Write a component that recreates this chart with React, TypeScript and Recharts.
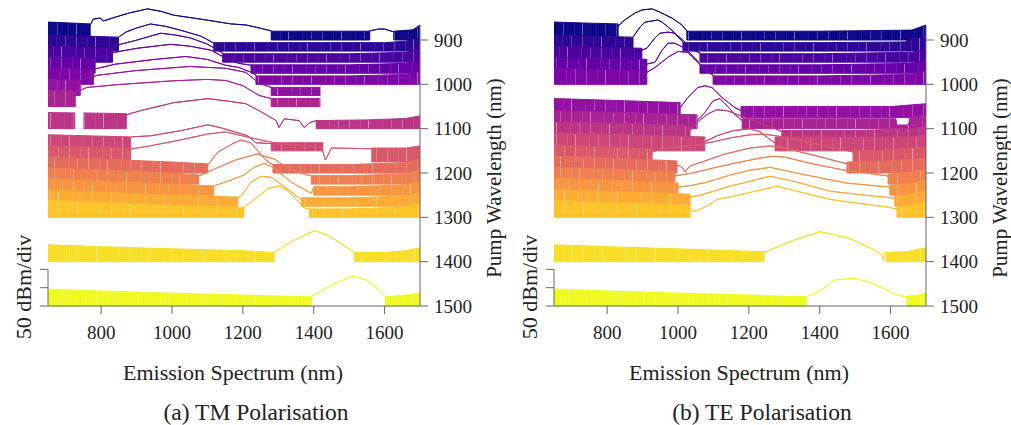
import { ComposedChart, Area, XAxis, YAxis, ReferenceLine } from 'recharts'

// Waterfall of OSA spectra: each trace is offset to its pump wavelength,
// 50 dB of signal per division on the pump axis.
const FLOOR = -100 // dBm, bottom of the noise spikes (sits on the pump line)
const NM_PER_DB = 0.826

// [emission nm, level dBm, 1 = noise floor (filled down to baseline)]; null level = no data
type Pt = [number, number | null, number?]

const tmPumps = [900, 925, 950, 975, 1000, 1025, 1050, 1100, 1150, 1175, 1200, 1225, 1250, 1275, 1300, 1400, 1500]
const tePumps = [900, 925, 950, 975, 1000, 1075, 1100, 1125, 1150, 1175, 1200, 1225, 1250, 1275, 1300, 1400, 1500]

const tm900: Pt[] = [[650, -51, 1], [700, -53, 1], [769, -56, 1], [769, -59], [778, -43], [798, -40], [806, -48], [832, -40], [880, -26], [931, -15], [970, -22], [1004, -32], [1081, -43], [1166, -56], [1209, -59], [1246, -67], [1280, -75], [1280, -76, 1], [1558, -76, 1], [1558, -75], [1583, -70], [1600, -70], [1626, -78], [1626, -76, 1], [1680, -72, 1], [1700, -59, 1]]
const tm925: Pt[] = [[650, -56, 1], [750, -59, 1], [849, -62, 1], [849, -62], [870, -48], [900, -37], [939, -26], [980, -32], [1024, -43], [1081, -59], [1118, -78], [1118, -77, 1], [1300, -77, 1], [1600, -77, 1], [1660, -73, 1], [1700, -62, 1]]
const tm950: Pt[] = [[650, -56, 1], [832, -62, 1], [832, -62], [855, -51], [900, -40], [968, -21], [1010, -26], [1053, -34], [1100, -51], [1143, -75], [1143, -77, 1], [1500, -77, 1], [1660, -73, 1], [1700, -65, 1]]
const tm975: Pt[] = [[650, -56, 1], [783, -59, 1], [783, -59], [826, -45], [900, -32], [996, -21], [1050, -26], [1110, -37], [1152, -59], [1188, -73], [1223, -78], [1223, -77, 1], [1500, -77, 1], [1660, -73, 1], [1700, -65, 1]]
const tm1000: Pt[] = [[650, -56, 1], [778, -59, 1], [778, -59], [840, -45], [950, -32], [1039, -24], [1100, -32], [1152, -48], [1189, -54], [1223, -67], [1237, -75], [1237, -77, 1], [1500, -77, 1], [1660, -73, 1], [1700, -65, 1]]
const tm1025: Pt[] = [[650, -56, 1], [741, -59, 1], [741, -59], [790, -45], [900, -32], [1050, -21], [1152, -26], [1208, -37], [1246, -67], [1280, -78], [1280, -78, 1], [1419, -78, 1]]
const tm1050: Pt[] = [[650, -56, 1], [727, -59, 1], [727, -62], [760, -48], [850, -40], [1000, -30], [1100, -26], [1152, -29], [1200, -43], [1246, -70], [1280, -78], [1280, -78, 1], [1419, -78, 1]]
const tm1100: Pt[] = [[650, -56, 1], [727, -57, 1], [738, null], [750, -57, 1], [871, -59, 1], [871, -62], [911, -51], [1005, -29], [1101, -18], [1152, -24], [1209, -32], [1246, -51], [1294, -78], [1302, -97], [1317, -73], [1359, -78], [1373, -97], [1388, -84], [1407, -78], [1407, -78, 1], [1550, -76, 1], [1660, -72, 1], [1700, -65, 1]]
const tm1150: Pt[] = [[650, -56, 1], [883, -62, 1], [883, -62], [939, -59], [1024, -45], [1101, -29], [1138, -37], [1166, -45], [1214, -59], [1237, -78], [1280, -80], [1280, -78, 1], [1427, -78, 1]]
const tm1175: Pt[] = [[650, -56, 1], [883, -62, 1], [883, -65], [939, -56], [1024, -40], [1100, -24], [1150, -18], [1200, -29], [1250, -40], [1308, -51], [1422, -59], [1433, -95], [1450, -62], [1564, -64], [1564, -62, 1], [1660, -62, 1], [1700, -56, 1]]
const tm1200: Pt[] = [[650, -56, 1], [800, -62, 1], [1000, -70, 1], [1101, -75, 1], [1101, -78], [1130, -43], [1175, -18], [1195, -10], [1223, -18], [1265, -65], [1285, -78], [1285, -77, 1], [1500, -77, 1], [1660, -72, 1], [1700, -62, 1]]
const tm1225: Pt[] = [[650, -56, 1], [800, -62, 1], [1000, -70, 1], [1075, -75, 1], [1075, -78], [1120, -59], [1180, -34], [1240, -18], [1290, -32], [1325, -56], [1373, -73], [1393, -78], [1393, -77, 1], [1500, -77, 1], [1660, -72, 1], [1700, -62, 1]]
const tm1250: Pt[] = [[650, -56, 1], [800, -62, 1], [1000, -70, 1], [1118, -75, 1], [1118, -75], [1166, -59], [1203, -45], [1232, -24], [1260, -13], [1288, -26], [1337, -65], [1393, -95], [1400, -78], [1400, -77, 1], [1500, -77, 1], [1660, -72, 1], [1700, -62, 1]]
const tm1275: Pt[] = [[650, -56, 1], [800, -62, 1], [1000, -70, 1], [1186, -75, 1], [1186, -75], [1195, -73], [1223, -34], [1251, -18], [1280, -21], [1308, -40], [1356, -75], [1365, -81], [1365, -77, 1], [1500, -77, 1], [1660, -72, 1], [1700, -62, 1]]
const tm1300: Pt[] = [[650, -54, 1], [800, -59, 1], [1000, -67, 1], [1203, -73, 1], [1203, -73], [1243, -43], [1271, -21], [1300, -15], [1322, -24], [1345, -45], [1371, -73], [1388, -78], [1388, -77, 1], [1500, -77, 1], [1660, -72, 1], [1700, -62, 1]]
const tm1400: Pt[] = [[650, -54, 1], [800, -59, 1], [1000, -65, 1], [1200, -70, 1], [1288, -75, 1], [1288, -75], [1337, -45], [1365, -32], [1402, -15], [1436, -26], [1478, -51], [1515, -75], [1515, -75, 1], [1600, -75, 1], [1660, -70, 1], [1700, -62, 1]]
const tm1500: Pt[] = [[650, -54, 1], [800, -59, 1], [1000, -65, 1], [1200, -70, 1], [1393, -75, 1], [1393, -75], [1450, -43], [1493, -24], [1512, -18], [1549, -29], [1578, -51], [1603, -75], [1603, -75, 1], [1660, -70, 1], [1700, -65, 1]]

const te900: Pt[] = [[650, -51, 1], [750, -54, 1], [831, -56, 1], [831, -62], [850, -45], [879, -26], [898, -18], [927, -15], [949, -24], [983, -40], [1011, -59], [1025, -75], [1025, -76, 1], [1400, -76, 1], [1660, -73, 1], [1700, -59, 1]]
const te925: Pt[] = [[650, -56, 1], [873, -62, 1], [873, -62], [893, -34], [907, -21], [943, -15], [955, -21], [983, -43], [1000, -62], [1014, -75], [1014, -77, 1], [1400, -77, 1], [1640, -75, 1], [1660, -65, 1], [1700, -62, 1]]
const te950: Pt[] = [[650, -56, 1], [898, -62, 1], [898, -67], [912, -62], [935, -34], [949, -21], [972, -18], [991, -21], [1020, -45], [1042, -67], [1062, -75], [1062, -77, 1], [1400, -77, 1], [1660, -73, 1], [1700, -65, 1]]
const te975: Pt[] = [[650, -56, 1], [912, -62, 1], [912, -75], [935, -70], [955, -37], [972, -18], [991, -18], [1020, -32], [1048, -59], [1062, -75], [1062, -77, 1], [1400, -77, 1], [1660, -73, 1], [1700, -65, 1]]
const te1000: Pt[] = [[650, -56, 1], [912, -62, 1], [912, -67], [935, -54], [972, -26], [1000, -10], [1028, -13], [1056, -40], [1085, -67], [1099, -75], [1099, -77, 1], [1400, -77, 1], [1660, -73, 1], [1700, -62, 1]]
const te1075: Pt[] = [[650, -48, 1], [850, -54, 1], [1006, -59, 1], [1006, -73], [1028, -45], [1056, -18], [1076, -13], [1096, -18], [1124, -45], [1161, -73], [1178, -81], [1178, -70, 1], [1400, -70, 1], [1600, -70, 1], [1700, -62, 1]]
const te1100: Pt[] = [[650, -51, 1], [850, -56, 1], [1054, -62, 1], [1054, -78], [1076, -56], [1099, -24], [1118, -18], [1138, -37], [1161, -62], [1181, -78], [1181, -73, 1], [1615, -73, 1], [1618, -90, 1], [1650, -90, 1], [1655, -70, 1], [1700, -62, 1]]
const te1125: Pt[] = [[650, -51, 1], [850, -56, 1], [1034, -62, 1], [1034, -75], [1056, -51], [1085, -29], [1110, -18], [1140, -21], [1175, -34], [1220, -51], [1268, -67], [1293, -78], [1293, -75, 1], [1500, -75, 1], [1660, -70, 1], [1700, -62, 1]]
const te1150: Pt[] = [[650, -51, 1], [850, -56, 1], [1076, -62, 1], [1076, -75], [1110, -59], [1155, -45], [1203, -40], [1231, -48], [1268, -75], [1274, -78], [1274, -62, 1], [1500, -64, 1], [1660, -62, 1], [1700, -56, 1]]
const te1175: Pt[] = [[650, -54, 1], [800, -59, 1], [927, -65, 1], [927, -73], [950, -65], [1000, -59], [1050, -54], [1100, -45], [1150, -34], [1203, -26], [1240, -24], [1280, -29], [1350, -43], [1430, -59], [1494, -73], [1494, -70, 1], [1600, -67, 1], [1700, -59, 1]]
const te1200: Pt[] = [[650, -54, 1], [800, -59, 1], [997, -67, 1], [997, -78], [1011, -84], [1020, -97], [1034, -81], [1076, -67], [1133, -48], [1203, -32], [1260, -26], [1300, -32], [1381, -51], [1477, -75], [1477, -70, 1], [1600, -67, 1], [1700, -59, 1]]
const te1225: Pt[] = [[650, -54, 1], [800, -59, 1], [991, -67, 1], [991, -78], [1040, -70], [1100, -56], [1160, -43], [1231, -29], [1268, -24], [1300, -26], [1381, -45], [1470, -62], [1593, -78], [1593, -73, 1], [1660, -67, 1], [1700, -59, 1]]
const te1250: Pt[] = [[650, -54, 1], [800, -59, 1], [1000, -67, 1], [1000, -78], [1040, -73], [1080, -65], [1147, -45], [1203, -32], [1260, -24], [1336, -40], [1477, -67], [1598, -78], [1598, -73, 1], [1660, -67, 1], [1700, -59, 1]]
const te1275: Pt[] = [[650, -54, 1], [800, -59, 1], [1034, -67, 1], [1034, -75], [1062, -70], [1100, -59], [1147, -45], [1203, -32], [1260, -18], [1336, -34], [1429, -59], [1530, -70], [1612, -78], [1612, -73, 1], [1660, -67, 1], [1700, -59, 1]]
const te1300: Pt[] = [[650, -54, 1], [800, -59, 1], [1034, -67, 1], [1034, -78], [1048, -84], [1062, -78], [1090, -65], [1110, -51], [1155, -43], [1203, -32], [1279, -15], [1336, -29], [1429, -51], [1598, -73], [1618, -78], [1618, -73, 1], [1660, -67, 1], [1700, -59, 1]]
const te1400: Pt[] = [[650, -54, 1], [800, -59, 1], [1000, -65, 1], [1243, -73, 1], [1243, -75], [1316, -45], [1401, -18], [1485, -37], [1542, -62], [1576, -81], [1580, -97], [1584, -75], [1589, -75], [1589, -75, 1], [1650, -72, 1], [1700, -62, 1]]
const te1500: Pt[] = [[650, -54, 1], [800, -59, 1], [1000, -65, 1], [1200, -70, 1], [1362, -75, 1], [1362, -75], [1405, -56], [1443, -29], [1498, -24], [1546, -37], [1589, -56], [1617, -70], [1646, -75], [1646, -73, 1], [1680, -70, 1], [1700, -64, 1]]

const tmSpectra = [tm900, tm925, tm950, tm975, tm1000, tm1025, tm1050, tm1100, tm1150, tm1175, tm1200, tm1225, tm1250, tm1275, tm1300, tm1400, tm1500]
const teSpectra = [te900, te925, te950, te975, te1000, te1075, te1100, te1125, te1150, te1175, te1200, te1225, te1250, te1275, te1300, te1400, te1500]

const xTicks = [800, 1000, 1200, 1400, 1600]
const pumpTicks = [900, 1000, 1100, 1200, 1300, 1400, 1500]

const PLASMA = ['#0d0887', '#41049d', '#6a00a8', '#8f0da4', '#b12a90', '#cc4778', '#e16462', '#f2844b', '#fca636', '#fcce25', '#f0f921']

function plasma(t: number) {
  const s = Math.max(0, Math.min(1, t)) * 10
  const i = Math.min(9, Math.floor(s))
  const f = s - i
  const a = PLASMA[i], b = PLASMA[i + 1]
  const ch = (h: string, k: number) => parseInt(h.slice(1 + 2 * k, 3 + 2 * k), 16)
  const out = [0, 1, 2].map((k) => Math.round(ch(a, k) + (ch(b, k) - ch(a, k)) * f))
  return `rgb(${out.join(',')})`
}

function toSeries(pump: number, pts: Pt[]) {
  return pts.map(([x, db, noisy]) => {
    if (db == null) return { x, v: null }
    const y = pump - (db - FLOOR) * NM_PER_DB
    return { x, v: [noisy ? pump : y, y] }
  })
}

// light streaks left by the dips in the noise floor; [offset px, width px, opacity]
const STREAKS: [number, number, number][] = [[4, 0.6, 0.45], [15, 0.4, 0.25], [23, 0.8, 0.5], [37, 0.4, 0.22], [46, 0.6, 0.38]]
const STREAK_TILE = 53

const SERIF = 'Liberation Serif, Tinos, Times New Roman, DejaVu Serif, serif'
const AXIS = '#666'
const INK = '#222'
const X0 = 650
const X1 = 1700
const Y_TOP = 826
const TICK_NM = 23 // left tick length of the dB scale bar, in emission nm

function Panel({ id, left, pumps, spectra, caption }: { id: string; left: number; pumps: number[]; spectra: Pt[][]; caption: string }) {
  const bar = 100 * NM_PER_DB
  const colors = spectra.map((_, i) => plasma(i / (spectra.length - 1)))
  return (
    <div style={{ position: 'absolute', left, top: 0, width: 506, height: 425 }}>
      <ComposedChart width={480} height={360} margin={{ top: 7.2, right: 0, bottom: 20, left: 48 }}>
        <defs>
          {colors.map((c, i) => (
            <pattern
              key={i}
              id={`${id}-floor-${i}`}
              width={STREAK_TILE}
              height={400}
              patternUnits="userSpaceOnUse"
              patternTransform={`translate(${(i * 19) % STREAK_TILE} 0)`}
            >
              <rect width={STREAK_TILE} height={400} fill={c} />
              {STREAKS.map(([x, w, o], k) => (
                <rect key={k} x={x} y={0} width={w} height={400} fill="#fff" opacity={o} />
              ))}
            </pattern>
          ))}
        </defs>
        <XAxis
          type="number"
          dataKey="x"
          domain={[X0, X1]}
          ticks={xTicks}
          allowDataOverflow
          height={34}
          tickSize={8}
          tickMargin={12}
          stroke={AXIS}
          tick={{ fill: INK, fontSize: 19, fontFamily: SERIF }}
        />
        <YAxis
          type="number"
          orientation="right"
          domain={[Y_TOP, 1500]}
          reversed
          ticks={pumpTicks}
          width={60}
          axisLine={false}
          tickSize={8}
          tickMargin={6}
          stroke={AXIS}
          tick={{ fill: INK, fontSize: 19, fontFamily: SERIF, textAnchor: 'start' }}
        />
        {spectra.map((pts, i) => (
          <Area
            key={pumps[i]}
            data={toSeries(pumps[i], pts)}
            dataKey="v"
            type="linear"
            fill={`url(#${id}-floor-${i})`}
            fillOpacity={1}
            stroke={colors[i]}
            strokeWidth={1}
            dot={false}
            activeDot={false}
            isAnimationActive={false}
          />
        ))}
        {/* right spine, starting just above the top trace */}
        <ReferenceLine segment={[{ x: X1, y: 866 }, { x: X1, y: 1500 }]} stroke={AXIS} ifOverflow="visible" />
        {/* 50 dBm/div scale bar */}
        <ReferenceLine segment={[{ x: X0, y: 1500 }, { x: X0, y: 1500 - bar }]} stroke={AXIS} ifOverflow="visible" />
        {[0, 0.5, 1].map((k) => (
          <ReferenceLine
            key={k}
            segment={[{ x: X0 - TICK_NM, y: 1500 - bar * k }, { x: X0, y: 1500 - bar * k }]}
            stroke={AXIS}
            ifOverflow="visible"
          />
        ))}
      </ComposedChart>
      <Text x={233} y={373} size={22}>Emission Spectrum (nm)</Text>
      <Text x={494} y={178} size={21} rotate>Pump Wavelength (nm)</Text>
      <Text x={24} y={287} size={22} rotate>50 dBm/div</Text>
      <Text x={256} y={413} size={23.5}>{caption}</Text>
    </div>
  )
}

function Text({ x, y, size, rotate, children }: { x: number; y: number; size: number; rotate?: boolean; children: string }) {
  return (
    <div
      style={{
        position: 'absolute',
        left: x,
        top: y,
        transform: `translate(-50%, -50%)${rotate ? ' rotate(-90deg)' : ''}`,
        whiteSpace: 'nowrap',
        fontFamily: SERIF,
        fontSize: size,
        lineHeight: 1,
        color: INK,
      }}
    >
      {children}
    </div>
  )
}

export default function App() {
  return (
    <div style={{ position: 'absolute', left: 0, top: 0, width: 1011, height: 425, background: '#fff', overflow: 'hidden' }}>
      <Panel id="tm" left={0} pumps={tmPumps} spectra={tmSpectra} caption="(a) TM Polarisation" />
      <Panel id="te" left={506} pumps={tePumps} spectra={teSpectra} caption="(b) TE Polarisation" />
    </div>
  )
}
